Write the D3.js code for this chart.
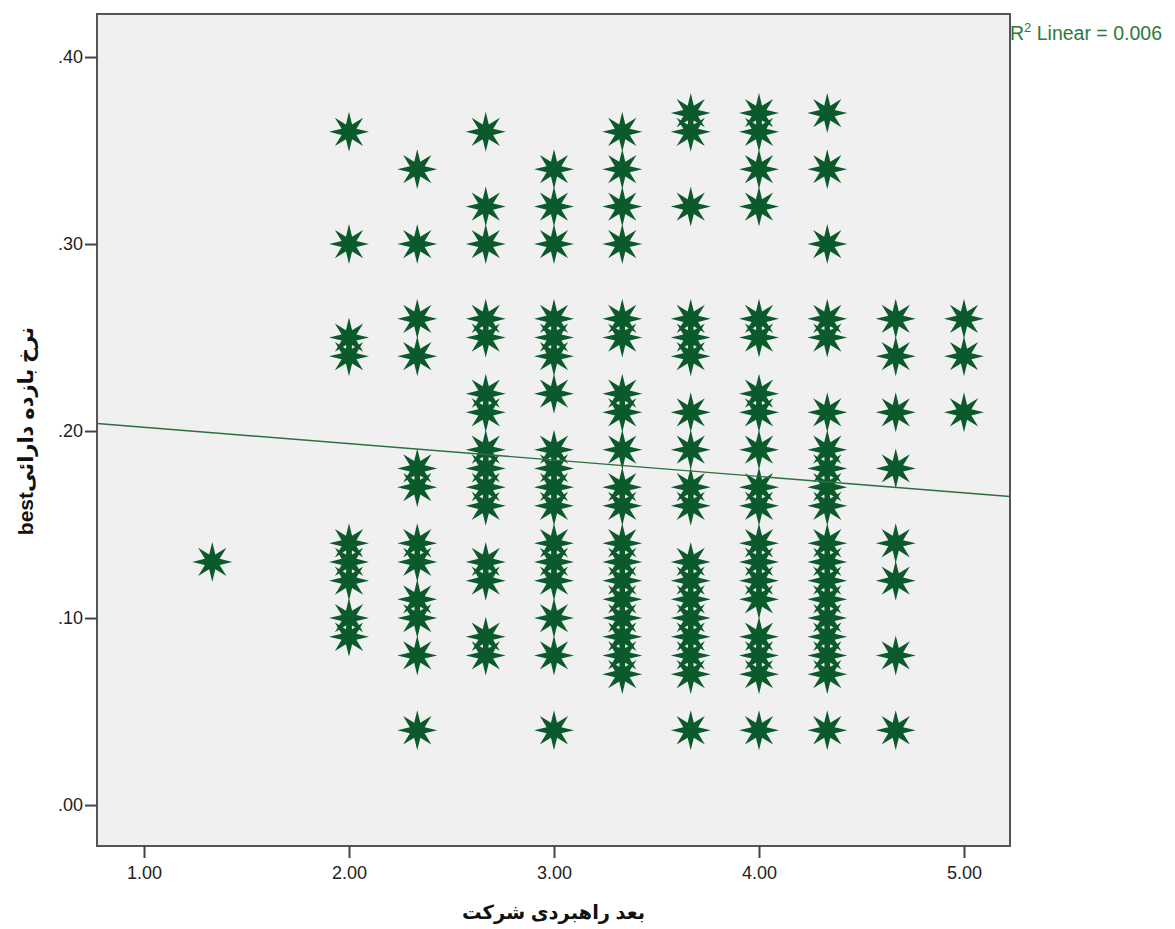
<!DOCTYPE html>
<html>
<head>
<meta charset="utf-8">
<script src="https://cdn.jsdelivr.net/npm/d3@7/dist/d3.min.js"></script>
<style>
body { margin: 0; background: #fff; }
text { font-family: "Liberation Sans", Arial, "DejaVu Sans", sans-serif; }
</style>
</head>
<body>
<div class="chart"></div>
<script>
// x levels (score of the dimension) and the observed y values at each level
const xLevels = [1.333, 2.000, 2.333, 2.667, 3.000, 3.333, 3.667, 4.000, 4.333, 4.667, 5.000];
const yAt133 = [0.13];
const yAt200 = [0.36, 0.30, 0.25, 0.24, 0.14, 0.13, 0.12, 0.10, 0.09];
const yAt233 = [0.34, 0.30, 0.26, 0.24, 0.18, 0.17, 0.14, 0.13, 0.11, 0.10, 0.08, 0.04];
const yAt267 = [0.36, 0.32, 0.30, 0.26, 0.25, 0.22, 0.21, 0.19, 0.18, 0.17, 0.16, 0.13, 0.12, 0.09, 0.08];
const yAt300 = [0.34, 0.32, 0.30, 0.26, 0.25, 0.24, 0.22, 0.19, 0.18, 0.17, 0.16, 0.14, 0.13, 0.12, 0.10, 0.08, 0.04];
const yAt333 = [0.36, 0.34, 0.32, 0.30, 0.26, 0.25, 0.22, 0.21, 0.19, 0.17, 0.16, 0.14, 0.13, 0.12, 0.11, 0.10, 0.09, 0.08, 0.07];
const yAt367 = [0.37, 0.36, 0.32, 0.26, 0.25, 0.24, 0.21, 0.19, 0.17, 0.16, 0.13, 0.12, 0.11, 0.10, 0.09, 0.08, 0.07, 0.04];
const yAt400 = [0.37, 0.36, 0.34, 0.32, 0.26, 0.25, 0.22, 0.21, 0.19, 0.17, 0.16, 0.14, 0.13, 0.12, 0.11, 0.09, 0.08, 0.07, 0.04];
const yAt433 = [0.37, 0.34, 0.30, 0.26, 0.25, 0.21, 0.19, 0.18, 0.17, 0.16, 0.14, 0.13, 0.12, 0.11, 0.10, 0.09, 0.08, 0.07, 0.04];
const yAt467 = [0.26, 0.24, 0.21, 0.18, 0.14, 0.12, 0.08, 0.04];
const yAt500 = [0.26, 0.24, 0.21];
const yColumns = [yAt133, yAt200, yAt233, yAt267, yAt300, yAt333, yAt367, yAt400, yAt433, yAt467, yAt500];

const xTicks = [1, 2, 3, 4, 5];
const yTicks = [0, 0.1, 0.2, 0.3, 0.4];

// linear fit shown on the chart
const fitIntercept = 0.2108;
const fitSlope = -0.00877;
const fitLabel = 'Linear = 0.006';

const xTitle = 'بعد راهبردی شرکت';
const yTitle = 'bestنرخ بازده دارائی';

const width = 1175, height = 929;
const plot = {left: 97, right: 1010, top: 14, bottom: 846};
const green = '#0b5a2b';

let svg = d3.select('.chart')
  .append('svg')
  .attr('width', width)
  .attr('height', height);

let x = d3.scaleLinear().domain([0.7707, 5.2244]).range([plot.left, plot.right]);
let y = d3.scaleLinear().domain([-0.0219, 0.4230]).range([plot.bottom, plot.top]);

svg.append('rect')
  .attr('x', plot.left)
  .attr('y', plot.top)
  .attr('width', plot.right - plot.left)
  .attr('height', plot.bottom - plot.top)
  .attr('fill', '#f0f0f0');

// points
let points = [];
xLevels.forEach(function(xv, i) {
  yColumns[i].forEach(function(yv) { points.push({x: xv, y: yv}); });
});

const outerR = 20, innerR = 8;
function starPath(cx, cy) {
  let pts = [];
  for (let k = 0; k < 16; k++) {
    let r = k % 2 === 0 ? outerR : innerR;
    let a = k * Math.PI / 8 - Math.PI / 2;
    pts.push([cx + r * Math.cos(a), cy + r * Math.sin(a)]);
  }
  return 'M' + pts.map(function(p) { return p[0].toFixed(2) + ',' + p[1].toFixed(2); }).join('L') + 'Z';
}

svg.append('g')
  .selectAll('path')
  .data(points)
  .enter()
  .append('path')
  .attr('d', function(d) { return starPath(x(d.x), y(d.y)); })
  .attr('fill', green);

// fit line across the plot
let xd = x.domain();
svg.append('line')
  .attr('x1', x(xd[0]))
  .attr('y1', y(fitIntercept + fitSlope * xd[0]))
  .attr('x2', x(xd[1]))
  .attr('y2', y(fitIntercept + fitSlope * xd[1]))
  .attr('stroke', '#2b7040')
  .attr('stroke-width', 1.4);

// frame
svg.append('rect')
  .attr('x', plot.left)
  .attr('y', plot.top)
  .attr('width', plot.right - plot.left)
  .attr('height', plot.bottom - plot.top)
  .attr('fill', 'none')
  .attr('stroke', '#555')
  .attr('stroke-width', 2);

let xAxis = svg.append('g')
  .attr('transform', 'translate(0,' + plot.bottom + ')')
  .call(d3.axisBottom(x).tickValues(xTicks).tickSize(12).tickSizeOuter(0).tickPadding(8)
    .tickFormat(d3.format('.2f')));

let yAxis = svg.append('g')
  .attr('transform', 'translate(' + plot.left + ',0)')
  .call(d3.axisLeft(y).tickValues(yTicks).tickSize(12).tickSizeOuter(0).tickPadding(2)
    .tickFormat(function(d) { return d3.format('.2f')(d).replace(/^0/, ''); }));

[xAxis, yAxis].forEach(function(g) {
  g.select('.domain').remove();
  g.selectAll('line').attr('stroke', '#444').attr('stroke-width', 2);
  g.selectAll('text').attr('fill', '#222').style('font-size', '18px');
});

// R squared label
let r2 = svg.append('text')
  .attr('x', 1010)
  .attr('y', 40)
  .attr('fill', '#2b7a3c')
  .style('font-size', '19.5px');
r2.append('tspan').text('R');
r2.append('tspan').attr('dy', -8).style('font-size', '13px').text('2');
r2.append('tspan').attr('dy', 8).text(' ' + fitLabel);

svg.append('text')
  .attr('x', (plot.left + plot.right) / 2)
  .attr('y', 919)
  .attr('text-anchor', 'middle')
  .attr('font-weight', 'bold')
  .attr('fill', '#111')
  .style('font-size', '19.5px')
  .text(xTitle);

svg.append('text')
  .attr('transform', 'translate(33,431) rotate(-90)')
  .attr('text-anchor', 'middle')
  .attr('font-weight', 'bold')
  .attr('fill', '#111')
  .style('font-size', '21px')
  .text(yTitle);
</script>
</body>
</html>
